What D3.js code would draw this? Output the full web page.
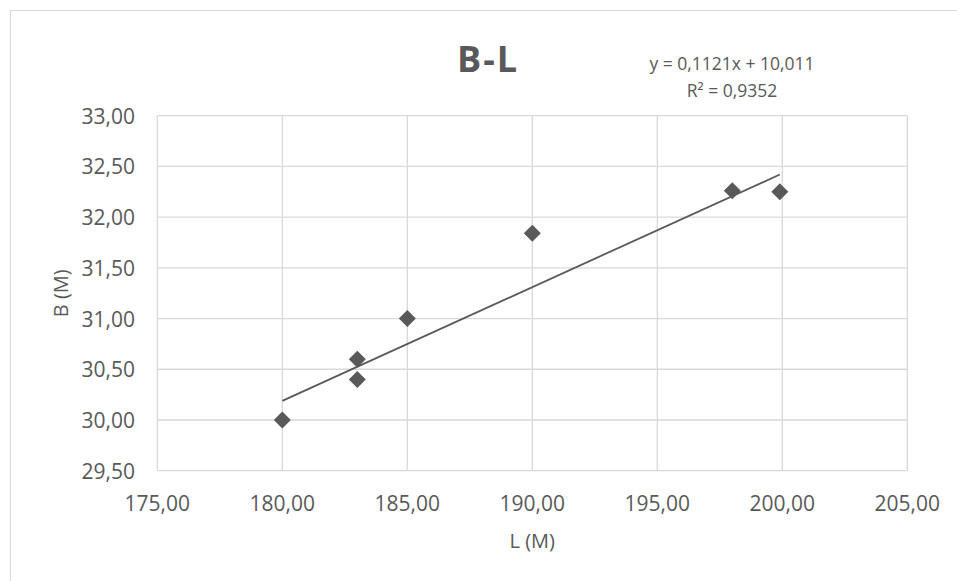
<!DOCTYPE html>
<html lang="en">
<head>
<meta charset="utf-8">
<title>B-L</title>
<script src="https://d3js.org/d3.v7.min.js"></script>
<style>
  body { margin: 0; background: #fff; }
  text { font-family: "Open Sans", sans-serif; fill: #595959; }
</style>
</head>
<body>
<svg id="chart" width="957" height="581"></svg>
<script>
// values
var lengths = [180, 183, 183, 185, 190, 198, 199.9];
var beams   = [30.00, 30.60, 30.40, 31.00, 31.84, 32.26, 32.25];
var xTicks = [175, 180, 185, 190, 195, 200, 205];
var yTicks = [29.5, 30, 30.5, 31, 31.5, 32, 32.5, 33];
var trendSlope = 0.1121, trendIntercept = 10.011;
var trendText = ["y = 0,1121x + 10,011", "R\u00b2 = 0,9352"];

var svg = d3.select("#chart");
var grid = "#d9d9d9", ink = "#595959";

// chart frame
svg.append("rect")
    .attr("x", 10.5).attr("y", 10.5)
    .attr("width", 1000).attr("height", 1000)
    .attr("fill", "none").attr("stroke", grid);

var plotL = 157.3, plotR = 907.3, plotT = 115.7, plotB = 470.7;
var x = d3.scaleLinear().domain([175, 205]).range([plotL, plotR]);
var y = d3.scaleLinear().domain([29.5, 33]).range([plotB, plotT]);
var fmt = function(v) { return d3.format(".2f")(v).replace(".", ","); };

// gridlines
svg.append("g").selectAll("line").data(xTicks).join("line")
    .attr("x1", d => x(d)).attr("x2", d => x(d))
    .attr("y1", plotT).attr("y2", plotB)
    .attr("stroke", grid).attr("stroke-width", 1.3);
svg.append("g").selectAll("line").data(yTicks).join("line")
    .attr("x1", plotL).attr("x2", plotR)
    .attr("y1", d => y(d)).attr("y2", d => y(d))
    .attr("stroke", grid).attr("stroke-width", 1.3);

// tick labels
svg.append("g").selectAll("text").data(yTicks).join("text")
    .attr("x", 135).attr("y", d => y(d))
    .attr("text-anchor", "end").attr("dominant-baseline", "central")
    .style("font-size", "21px")
    .text(fmt);
svg.append("g").selectAll("text").data(xTicks).join("text")
    .attr("x", d => x(d)).attr("y", 503)
    .attr("text-anchor", "middle").attr("dominant-baseline", "central")
    .style("font-size", "21px")
    .text(fmt);

// axis titles
svg.append("text")
    .attr("transform", "translate(60," + ((plotT + plotB) / 2) + ") rotate(-90)")
    .attr("text-anchor", "middle").attr("dominant-baseline", "central")
    .style("font-size", "20px")
    .text("B (M)");
svg.append("text")
    .attr("x", (plotL + plotR) / 2).attr("y", 540)
    .attr("text-anchor", "middle").attr("dominant-baseline", "central")
    .style("font-size", "20px")
    .text("L (M)");

// title
svg.append("text")
    .attr("x", 488).attr("y", 72)
    .attr("text-anchor", "middle")
    .style("font-size", "36px").style("font-weight", "bold")
    .style("letter-spacing", "2px")
    .text("B-L");

// trendline label
svg.append("g").selectAll("text").data(trendText).join("text")
    .attr("x", 732).attr("y", (d, i) => 70 + i * 27)
    .attr("text-anchor", "middle")
    .style("font-size", "17.5px")
    .text(d => d);

// linear trendline across the data range
var xMin = d3.min(lengths), xMax = d3.max(lengths);
svg.append("line")
    .attr("x1", x(xMin)).attr("y1", y(trendSlope * xMin + trendIntercept))
    .attr("x2", x(xMax)).attr("y2", y(trendSlope * xMax + trendIntercept))
    .attr("stroke", ink).attr("stroke-width", 1.8);

// diamond markers
var pts = lengths.map((l, i) => ({ l: l, b: beams[i] }));
svg.append("g").selectAll("path").data(pts).join("path")
    .attr("transform", d => "translate(" + x(d.l) + "," + y(d.b) + ")")
    .attr("d", "M0,-8.5L8.5,0L0,8.5L-8.5,0Z")
    .attr("fill", ink);
</script>
</body>
</html>
